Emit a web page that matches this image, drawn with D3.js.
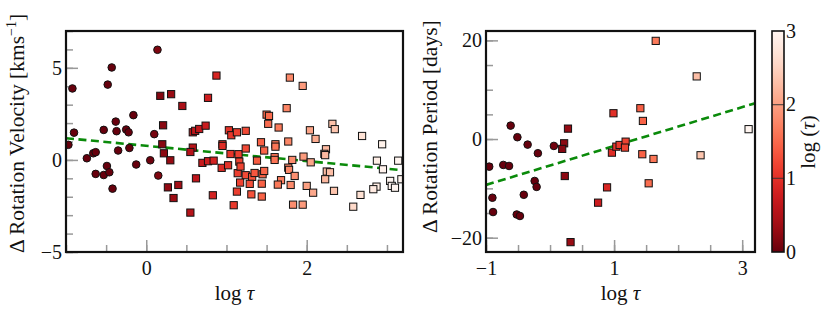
<!DOCTYPE html>
<html>
<head>
<meta charset="utf-8">
<script src="https://cdn.jsdelivr.net/npm/d3@7"></script>
<style>
  body { margin: 0; background: #fff; }
  svg text { font-family: "Liberation Serif", "DejaVu Serif", serif !important; fill: #111; }
</style>
</head>
<body>
<div id="chart"></div>
<script>
// left panel: rotation velocity difference vs log tau
var velCircleX = [0.14, -0.43, -0.92, -0.48, -0.16, -0.38, -0.90, -0.53, -0.37, -0.25, -0.22, 0.10, -0.97,
    -0.74, -0.66, -0.63, -0.35, -0.21, -0.49, -0.63, -0.53, -0.46, -0.42, -0.125, 0.05, 0.15];
var velCircleY = [5.98, 5.02, 3.88, 4.09, 2.43, 2.08, 1.48, 1.63, 1.56, 1.65, 1.50, 1.40, 0.82,
    0.09, 0.36, 0.42, 0.51, 0.65, -0.33, -0.76, -0.82, -0.67, -1.56, -0.25, -0.02, -0.85];

var velSquareX = [0.875, 0.175, 0.31, 0.45, 0.77, 0.21, 0.58, 0.61, 0.66, 0.74, 1.03, 1.06, 1.13, 0.20, 0.95,
    1.79, 1.95, 1.75, 1.50, 1.53, 1.52, 1.65, 2.04, 2.32, 2.35, 2.69, 2.11, 2.94, 1.24, 1.43, 1.61, 1.77,
    0.22, 0.30, 0.27, 0.40, 0.34, 0.58, 0.55, 0.62, 0.55, 0.70, 0.77, 0.84, 0.95, 0.94, 1.02, 0.83, 1.09,
    1.14, 1.13, 1.05, 1.15, 1.16, 1.175, 1.24, 1.24, 1.32, 1.17, 1.29, 1.31,
    1.35, 1.45, 1.47, 1.44, 1.44, 1.47, 1.38, 1.61, 1.60, 1.60, 1.68, 1.64, 1.80, 1.82, 1.77, 1.78, 1.85,
    1.83, 1.95, 1.96, 2.05, 2.00, 2.08, 2.24, 2.22, 2.23, 2.25, 2.29, 2.23, 2.34, 2.67, 2.58,
    2.875, 2.95, 3.14, 2.87, 2.83, 3.04, 3.06, 3.10, 3.18];
var velSquareY = [4.58, 3.48, 3.57, 2.93, 3.37, 1.88, 1.50, 1.58, 1.68, 1.86, 1.61, 1.34, 1.50, 0.85, 0.85,
    4.47, 4.02, 2.81, 2.46, 2.39, 1.96, 1.76, 1.61, 1.96, 1.67, 1.30, 1.14, 0.85, 1.58, 0.96, 0.85, 1.00,
    0.36, -0.02, -1.49, -1.36, -2.07, 0.67, 0.43, -1.00, -2.86, -0.16, -0.07, -0.04, 0.76, -0.43, -0.29, -1.92, -2.46,
    -0.72, -1.72, 0.32, 0.31, -0.09, -0.36, 0.62, -0.83, -0.92, -1.23, -1.30, -1.87,
    -0.71, -0.78, -0.60, -1.29, -1.99, 0.51, -0.04, 0.72, 0.15, 0.00, -1.10, -1.34, -1.36, 0.00, -0.42, -0.54, -0.87,
    -2.43, -2.43, 0.18, -0.13, -1.41, -1.78, 0.58, 0.33, 0.26, -0.63, -0.67, -1.05, -1.68, -1.90, -2.54,
    -0.04, -0.51, -0.04, -1.45, -1.59, -1.14, -1.41, -1.51, -1.05];

// right panel: rotation period difference vs log tau
var perCircleX = [-0.615, -0.51, -0.35, -0.19, 0.06, -0.95, -0.73, -0.64, -0.24, -0.21, -0.90, -0.41, -0.89, -0.52, -0.47];
var perCircleY = [2.72, 0.37, -1.13, -2.88, -1.40, -5.6, -5.25, -5.46, -8.5, -9.7, -11.9, -11.3, -14.8, -15.3, -15.6];

var perSquareX = [0.28, 0.22, 0.19, 0.23, 0.32, 0.75, 0.89, 0.966, 1.035, 1.086, 1.18, 1.17, 1.44, 1.615, 2.35,
    1.54, 3.10, 1.65, 2.29, 0.99, 1.41, 1.45];
var perSquareY = [2.11, -0.86, -2.0, -7.5, -20.9, -12.9, -9.8, -2.76, -1.54, -1.2, -0.53, -1.74, -3.08, -4.04, -3.29,
    -8.97, 2.0, 19.9, 12.7, 5.23, 6.25, 3.67];

// fitted lines [intercept, slope]
var velFit = [0.766, -0.414];
var perFit = [-5.36, 3.94];

var velXTicks = [0, 2];
var velYTicks = [-5, 0, 5];
var perXTicks = [-1, 1, 3];
var perYTicks = [-20, 0, 20];
var cbarTicks = [0, 1, 2, 3];

var W = 830, H = 310;
var svg = d3.select("#chart").append("svg").attr("width", W).attr("height", H);

var color = function(v) { return d3.interpolateReds(1 - Math.max(0, Math.min(3, v)) / 3); };

function minorTicks(dom, step) {
    var out = [];
    var start = Math.ceil(dom[0] / step) * step;
    for (var v = start; v <= dom[1] + 1e-9; v += step) out.push(+v.toFixed(6));
    return out;
}

function fmt(d) { return d < 0 ? "\u2212" + Math.abs(d) : "" + d; }

function drawPanel(opt) {
    var x = d3.scaleLinear().domain(opt.xDom).range([opt.x0, opt.x1]);
    var y = d3.scaleLinear().domain(opt.yDom).range([opt.y1, opt.y0]);
    var g = svg.append("g");

    var clipId = "clip" + opt.name;
    svg.append("clipPath").attr("id", clipId).append("rect")
        .attr("x", opt.x0).attr("y", opt.y0).attr("width", opt.x1 - opt.x0).attr("height", opt.y1 - opt.y0);

    // minor ticks
    g.append("g").attr("transform", "translate(0," + opt.y1 + ")")
        .call(d3.axisBottom(x).tickValues(minorTicks(opt.xDom, opt.xMinor)).tickSize(-7).tickFormat(""));
    g.append("g").attr("transform", "translate(" + opt.x0 + ",0)")
        .call(d3.axisLeft(y).tickValues(minorTicks(opt.yDom, opt.yMinor)).tickSize(-7).tickFormat(""));
    // major ticks
    g.append("g").attr("class", "xmaj").attr("transform", "translate(0," + opt.y1 + ")")
        .call(d3.axisBottom(x).tickValues(opt.xTicks).tickSize(-12).tickPadding(9).tickFormat(fmt));
    g.append("g").attr("class", "ymaj").attr("transform", "translate(" + opt.x0 + ",0)")
        .call(d3.axisLeft(y).tickValues(opt.yTicks).tickSize(-12).tickPadding(4).tickFormat(fmt));

    g.selectAll(".domain").remove();
    g.selectAll(".tick line").attr("stroke", "#999").attr("stroke-width", 1.5);
    g.selectAll(".tick text").attr("font-size", 20).attr("fill", "#111");
    g.selectAll(".ymaj .tick text").attr("dy", "0.33em");

    var pts = g.append("g").attr("clip-path", "url(#" + clipId + ")");

    // fit line
    pts.append("line")
        .attr("x1", x(opt.xDom[0])).attr("y1", y(opt.fit[0] + opt.fit[1] * opt.xDom[0]))
        .attr("x2", x(opt.xDom[1])).attr("y2", y(opt.fit[0] + opt.fit[1] * opt.xDom[1]))
        .attr("stroke", "#0a8a0a").attr("stroke-width", 2.6).attr("stroke-dasharray", "8,4.5");

    pts.selectAll("circle").data(d3.range(opt.cx.length)).enter().append("circle")
        .attr("cx", function(i) { return x(opt.cx[i]); })
        .attr("cy", function(i) { return y(opt.cy[i]); })
        .attr("r", 3.8)
        .attr("fill", function(i) { return color(opt.cx[i]); })
        .attr("stroke", "#111").attr("stroke-width", 1);

    var s = 7.2;
    pts.selectAll("rect.sq").data(d3.range(opt.sx.length)).enter().append("rect").attr("class", "sq")
        .attr("x", function(i) { return x(opt.sx[i]) - s / 2; })
        .attr("y", function(i) { return y(opt.sy[i]) - s / 2; })
        .attr("width", s).attr("height", s)
        .attr("fill", function(i) { return color(opt.sx[i]); })
        .attr("stroke", "#111").attr("stroke-width", 1);

    // frame
    g.append("rect").attr("x", opt.x0).attr("y", opt.y0)
        .attr("width", opt.x1 - opt.x0).attr("height", opt.y1 - opt.y0)
        .attr("fill", "none").attr("stroke", "#111").attr("stroke-width", 2.2);

    // x label
    var xl = g.append("text").attr("x", (opt.x0 + opt.x1) / 2).attr("y", 300)
        .attr("text-anchor", "middle").attr("font-size", 21);
    xl.append("tspan").text("log ");
    xl.append("tspan").attr("font-style", "italic").text("\u03c4");

    // y label, drawn upward from its bottom end
    var yl = g.append("text").attr("transform", "translate(" + opt.ylX + "," + opt.ylY + ") rotate(-90)")
        .attr("text-anchor", "start").attr("font-size", 21.5);
    opt.ylabel(yl);
}

drawPanel({
    name: "vel", x0: 66, x1: 403, y0: 31, y1: 252,
    xDom: [-1, 3.2], yDom: [-5, 7], xMinor: 0.5, yMinor: 1,
    xTicks: velXTicks, yTicks: velYTicks,
    cx: velCircleX, cy: velCircleY, sx: velSquareX, sy: velSquareY, fit: velFit,
    ylX: 24, ylY: 253,
    ylabel: function(t) {
        t.append("tspan").text("\u0394 Rotation Velocity [kms");
        t.append("tspan").attr("font-size", 14).attr("dy", -8).text("\u22121");
        t.append("tspan").attr("dy", 8).text("]");
    }
});

drawPanel({
    name: "per", x0: 486, x1: 755, y0: 31, y1: 252,
    xDom: [-1, 3.2], yDom: [-22.9, 21.9], xMinor: 0.5, yMinor: 5,
    xTicks: perXTicks, yTicks: perYTicks,
    cx: perCircleX, cy: perCircleY, sx: perSquareX, sy: perSquareY, fit: perFit,
    ylX: 437, ylY: 233,
    ylabel: function(t) {
        t.append("tspan").text("\u0394 Rotation Period [days]");
    }
});

// colorbar
var cb = { x0: 772, x1: 784, y0: 31, y1: 252 };
var cy = d3.scaleLinear().domain([0, 3]).range([cb.y1, cb.y0]);
var grad = svg.append("defs").append("linearGradient").attr("id", "cbgrad")
    .attr("x1", 0).attr("y1", 1).attr("x2", 0).attr("y2", 0);
d3.range(0, 1.0001, 0.05).forEach(function(t) {
    grad.append("stop").attr("offset", t).attr("stop-color", color(t * 3));
});
svg.append("rect").attr("x", cb.x0).attr("y", cb.y0).attr("width", cb.x1 - cb.x0).attr("height", cb.y1 - cb.y0)
    .attr("fill", "url(#cbgrad)");
svg.selectAll("line.cbt").data([1, 2]).enter().append("line").attr("class", "cbt")
    .attr("x1", cb.x0).attr("x2", cb.x1)
    .attr("y1", function(d) { return cy(d); }).attr("y2", function(d) { return cy(d); })
    .attr("stroke", "#333").attr("stroke-width", 1.2).attr("stroke-opacity", 0.8);
svg.append("rect").attr("x", cb.x0).attr("y", cb.y0).attr("width", cb.x1 - cb.x0).attr("height", cb.y1 - cb.y0)
    .attr("fill", "none").attr("stroke", "#111").attr("stroke-width", 1.6);
svg.selectAll("text.cbl").data(cbarTicks).enter().append("text").attr("class", "cbl")
    .attr("x", 786).attr("y", function(d) { return cy(d); }).attr("dy", "0.33em")
    .attr("font-size", 20).text(function(d) { return d; });
var cl = svg.append("text").attr("transform", "translate(815,142) rotate(-90)")
    .attr("text-anchor", "middle").attr("font-size", 21);
cl.append("tspan").text("log (");
cl.append("tspan").attr("font-style", "italic").text("\u03c4");
cl.append("tspan").text(")");
</script>
</body>
</html>
